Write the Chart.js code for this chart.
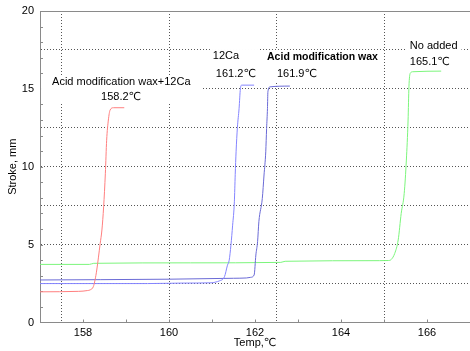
<!DOCTYPE html>
<html>
<head>
<meta charset="utf-8">
<script src="https://cdn.jsdelivr.net/npm/chart.js@4.4.0/dist/chart.umd.min.js"></script>
<style>
  body { margin: 0; background: #fff; }
  #wrap { width: 470px; height: 351px; position: relative; }
</style>
</head>
<body>
<div id="wrap"><canvas id="strokeChart"></canvas></div>
<script>
// Acid modification wax + 12Ca (red)
const mix12CaTemp   = [157.0, 157.9, 158.1, 158.17, 158.24, 158.28, 158.32, 158.40, 158.44, 158.48, 158.52, 158.55, 158.59, 158.63, 158.71, 158.96];
const mix12CaStroke = [1.97, 2.0, 2.05, 2.1, 2.3, 2.73, 3.37, 5.08, 5.94, 7.43, 9.58, 11.7, 13.0, 13.64, 13.79, 13.79];

// 12Ca (light blue)
const ca12Temp   = [157.0, 159.5, 160.3, 161.0, 161.09, 161.17, 161.29, 161.36, 161.40, 161.44, 161.48, 161.52, 161.54, 161.56, 161.59, 161.63, 161.66, 161.69, 161.98];
const ca12Stroke = [2.5, 2.5, 2.53, 2.55, 2.6, 2.67, 2.94, 3.68, 4.0, 4.96, 6.25, 7.75, 9.5, 10.96, 12.5, 13.75, 15.0, 15.24, 15.24];

// Acid modification wax (darker blue)
const waxTemp   = [157.0, 158.4, 160.0, 161.5, 161.80, 161.90, 161.98, 162.02, 162.06, 162.09, 162.17, 162.21, 162.25, 162.27, 162.29, 162.30, 162.35, 162.81];
const waxStroke = [2.73, 2.75, 2.78, 2.84, 2.86, 2.9, 3.05, 4.33, 5.19, 6.47, 7.97, 9.47, 10.96, 12.46, 13.75, 14.81, 15.13, 15.18];

// No added (green)
const noneTemp   = [157.0, 158.15, 158.25, 160.5, 162.6, 162.7, 164.9, 165.1, 165.17, 165.25, 165.33, 165.40, 165.47, 165.52, 165.56, 165.58, 165.61, 165.67, 166.33];
const noneStroke = [3.73, 3.73, 3.8, 3.83, 3.86, 3.93, 3.97, 3.98, 4.05, 4.44, 5.3, 7.0, 8.29, 10.43, 13.0, 15.13, 16.0, 16.1, 16.14];

const xLabelValues = [158, 160, 162, 164, 166];
const yLabelValues = [0, 5, 10, 15, 20];

// text notes on the plot (position in data units)
const noteGroups = [
    { pad: [11, 1], lines: [
        { text: 'Acid modification wax+12Ca', x: 157.28, y: 15.44 },
        { text: '158.2℃', x: 158.42, y: 14.48 } ] },
    { pad: [3, 1], lines: [
        { text: '12Ca', x: 161.02, y: 17.11 },
        { text: '161.2℃', x: 161.09, y: 15.95 } ] },
    { pad: [3, 1], lines: [
        { text: 'Acid modification wax', x: 162.28, y: 17.05, bold: true },
        { text: '161.9℃', x: 162.51, y: 15.95 } ] },
    { pad: [4, 1], lines: [
        { text: 'No added', x: 165.60, y: 17.75 },
        { text: '165.1℃', x: 165.60, y: 16.72 } ] }
];

function toPoints(xs, ys) {
    return xs.map((x, i) => ({ x: x, y: ys[i] }));
}

function onStep(v, step) {
    return Math.abs(v / step - Math.round(v / step)) < 1e-6;
}

const FONT = "'Liberation Sans', Arial, 'DejaVu Sans', sans-serif";

function noteFont(line) {
    return line.bold ? 'bold 10.5px ' + FONT : '11px ' + FONT;
}

// tick marks inside the plot, top frame line and the notes
const extrasPlugin = {
    id: 'extras',
    beforeDatasetsDraw(chart) {
        const ctx = chart.ctx;
        const area = chart.chartArea;
        const xs = chart.scales.x;
        const ys = chart.scales.y;
        ctx.save();
        ctx.strokeStyle = '#8a8a8a';
        ctx.lineWidth = 1;
        ctx.beginPath();
        ctx.moveTo(area.left, area.top + 0.5);
        ctx.lineTo(area.right, area.top + 0.5);
        for (let t = 158; t <= 166; t++) {
            const px = Math.round(xs.getPixelForValue(t)) + 0.5;
            ctx.moveTo(px, area.bottom);
            ctx.lineTo(px, area.bottom - 3);
        }
        for (let s = 1; s < 20; s++) {
            const py = Math.round(ys.getPixelForValue(s)) + 0.5;
            ctx.moveTo(area.left, py);
            ctx.lineTo(area.left + 3, py);
        }
        ctx.stroke();

        ctx.textBaseline = 'middle';
        ctx.textAlign = 'left';
        noteGroups.forEach(group => {
            let l = Infinity, r = -Infinity, t = Infinity, b = -Infinity;
            group.lines.forEach(line => {
                ctx.font = noteFont(line);
                const px = xs.getPixelForValue(line.x);
                const py = ys.getPixelForValue(line.y);
                const w = ctx.measureText(line.text).width;
                l = Math.min(l, px); r = Math.max(r, px + w);
                t = Math.min(t, py - 6); b = Math.max(b, py + 6);
            });
            ctx.fillStyle = '#fff';
            ctx.fillRect(l - group.pad[0], t - group.pad[1], r - l + 2 * group.pad[0], b - t + 2 * group.pad[1]);
            ctx.fillStyle = '#000';
            group.lines.forEach(line => {
                ctx.font = noteFont(line);
                ctx.fillText(line.text, xs.getPixelForValue(line.x), ys.getPixelForValue(line.y));
            });
        });
        ctx.restore();
    }
};

Chart.defaults.font.family = FONT;
Chart.defaults.font.size = 11;
Chart.defaults.color = '#000';

const ctx = document.getElementById('strokeChart').getContext('2d');
new Chart(ctx, {
    type: 'scatter',
    data: {
        datasets: [
            { label: 'Acid modification wax+12Ca', data: toPoints(mix12CaTemp, mix12CaStroke), borderColor: '#ff7f7f' },
            { label: '12Ca', data: toPoints(ca12Temp, ca12Stroke), borderColor: '#8585ff' },
            { label: 'Acid modification wax', data: toPoints(waxTemp, waxStroke), borderColor: '#6b6bd6' },
            { label: 'No added', data: toPoints(noneTemp, noneStroke), borderColor: '#7cf57c' }
        ].map(ds => ({
            ...ds,
            showLine: true,
            borderWidth: 1,
            pointRadius: 0,
            pointHoverRadius: 0,
            cubicInterpolationMode: 'monotone',
            fill: false
        }))
    },
    options: {
        responsive: true,
        maintainAspectRatio: false,
        animation: false,
        layout: { padding: { top: 11, right: 0, left: 0, bottom: 0 } },
        plugins: {
            legend: { display: false },
            tooltip: { enabled: false }
        },
        scales: {
            x: {
                type: 'linear',
                min: 157,
                max: 167,
                afterFit: scale => {
                    scale.height = 28.5;
                    scale.paddingLeft = 0;
                    scale.paddingRight = 0;
                },
                border: { color: '#8a8a8a', width: 1, dash: [1, 2] },
                grid: {
                    drawTicks: false,
                    color: c => (c.tick && onStep(c.tick.value, 2.5) && c.tick.value > 157 && c.tick.value < 167) ? '#555' : 'rgba(0,0,0,0)'
                },
                ticks: {
                    stepSize: 0.5,
                    autoSkip: false,
                    maxRotation: 0,
                    padding: 4,
                    callback: v => xLabelValues.includes(v) ? String(v) : ''
                },
                title: { display: true, text: 'Temp,℃', padding: { top: 0, bottom: 1 } }
            },
            y: {
                min: 0,
                max: 20,
                afterFit: scale => {
                    scale.width = 40;
                    scale.paddingTop = 0;
                    scale.paddingBottom = 0;
                },
                border: { color: '#8a8a8a', width: 1, dash: [1, 2] },
                grid: {
                    drawTicks: false,
                    color: c => (c.tick && onStep(c.tick.value, 2.5) && c.tick.value > 0 && c.tick.value < 20) ? '#555' : 'rgba(0,0,0,0)'
                },
                ticks: {
                    stepSize: 2.5,
                    padding: 6,
                    callback: v => yLabelValues.includes(v) ? String(v) : ''
                },
                title: { display: true, text: 'Stroke, mm', padding: { top: 6, bottom: 0 } }
            }
        }
    },
    plugins: [extrasPlugin]
});
</script>
</body>
</html>
